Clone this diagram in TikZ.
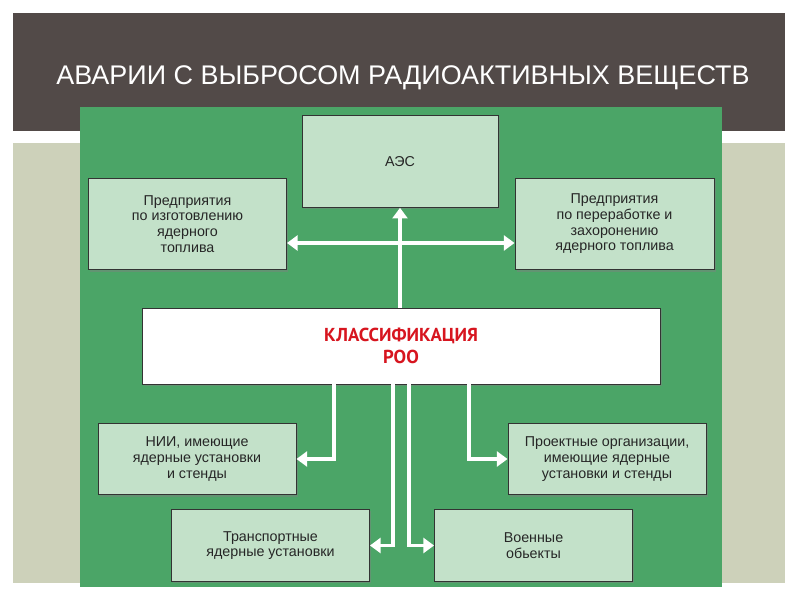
\documentclass[tikz,border=0pt]{standalone}
\usepackage{fontspec}
\setmainfont{Liberation Sans}
\newfontfamily\roofont{PT Sans}
\usepackage{xcolor}
\usepackage{tikz}
\usetikzlibrary{arrows.meta,positioning,calc,shadows}

\definecolor{bandgray}{HTML}{524A48}
\definecolor{sidebeige}{HTML}{CDD1BA}
\definecolor{panelgreen}{HTML}{4BA567}
\definecolor{boxgreen}{HTML}{C3E1C9}
\definecolor{roored}{HTML}{D7151F}

\begin{document}
\begin{tikzpicture}[x=0.3mm, y=-0.3mm,
    box/.style={draw=black!80, line width=0.8pt, fill=boxgreen, align=center,
        text=black!85, font=\fontsize{12.2}{13.4}\selectfont, inner sep=0pt,
        minimum width=59.4mm, minimum height=27.5mm,
        drop shadow={shadow xshift=0.5mm, shadow yshift=-0.5mm, opacity=0.45}},
    lowbox/.style={box, minimum height=21.5mm},
    link/.style={draw=white, line width=2.6pt, -{Triangle[length=3.2mm,width=4.5mm]}}]
\useasboundingbox (0,0) rectangle (800,600);
\fill[sidebeige] (13,143) rectangle (785,583);
\fill[bandgray] (13,13) rectangle (785,131);
\fill[panelgreen] (80,107) rectangle (722,587);
\node[font=\fontsize{23}{27}\selectfont, text=white] (title) at (403,78)
    {АВАРИИ С ВЫБРОСОМ РАДИОАКТИВНЫХ ВЕЩЕСТВ};

\node[box, minimum width=58.8mm] (aes) at (400,161.5) {АЭС};
\node[box] (fab) at (187.5,224) {Предприятия\\по изготовлению\\ядерного\\топлива};
\node[box, minimum width=59.7mm] (recyc) at (614.5,224)
    {Предприятия\\по переработке и\\захоронению\\ядерного топлива};
\node[box, fill=white, minimum width=155.4mm, minimum height=22.8mm,
    font=\roofont\bfseries\fontsize{16}{19}\selectfont, text=roored] (roo) at (401,346)
    {КЛАССИФИКАЦИЯ\\РОО};
\node[lowbox] (nii) at (197,459) {НИИ, имеющие\\ядерные установки\\и стенды};
\node[lowbox] (proj) at (607,459) {Проектные организации,\\имеющие ядерные\\установки и стенды};
\node[lowbox] (trans) at (270.5,545.5) {Транспортные\\ядерные установки};
\node[lowbox] (mil) at (533.5,545.5) {Военные\\обьекты};

\draw[link] (roo.north -| aes.south) -- (aes.south);
\draw[link, {Triangle[length=3.2mm,width=4.5mm]}-{Triangle[length=3.2mm,width=4.5mm]}]
    ($(fab.east)+(0,19)$) -- ($(recyc.west)+(0,19)$);
\draw[link] ($(roo.south)+(-67,0)$) |- (nii.east);
\draw[link] ($(roo.south)+(68,0)$) |- (proj.west);
\draw[link] ($(roo.south)+(-8,0)$) |- (trans.east);
\draw[link] ($(roo.south)+(8,0)$) |- (mil.west);
\end{tikzpicture}
\end{document}
